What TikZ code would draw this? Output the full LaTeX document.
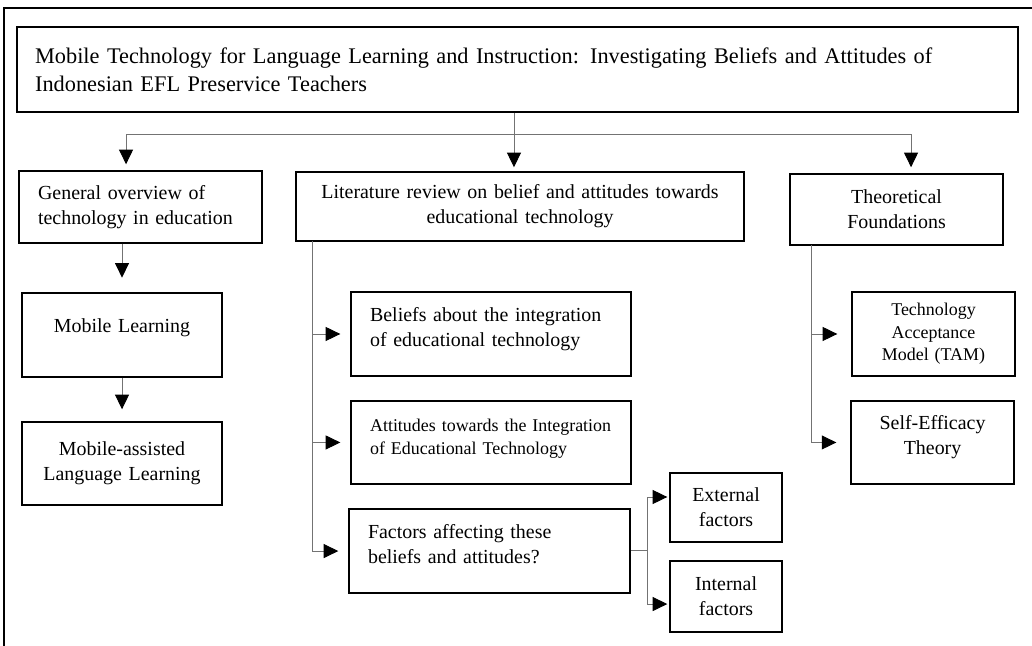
\documentclass[tikz,border=0pt]{standalone}
\usepackage{fontspec}
\setmainfont{Liberation Serif}
\usepackage{tikz}
\usetikzlibrary{arrows.meta}
\tikzset{>={Triangle[width=10.5pt,length=11pt,color=black]}}
\tikzset{box/.style={shape=rectangle,draw=black,line width=1.1pt,inner sep=0pt,font=\fontsize{15}{18.75}\selectfont},
  smallbox/.style={box,font=\fontsize{13.5}{16.9}\selectfont},
  link/.style={draw=black!55,line width=0.7pt}}
\newcommand{\padbelow}{\\[-8pt]\mbox{}}

\begin{document}
\begin{tikzpicture}

\useasboundingbox (0,0) rectangle (10.75in,-6.719in);
\draw[line width=1.4pt] (0.042in,-6.8in) -- (0.042in,-0.083in) -- (10.8in,-0.083in);

\path (5.391in,-0.724in) node (title) [box,minimum height=0.885in,minimum width=10.427in,text width=10.05in,align=left,font=\fontsize{16.8}{21}\selectfont]{Mobile Technology for Language Learning and Instruction: Investigating Beliefs and Attitudes of\\Indonesian EFL Preservice Teachers};

\path (1.464in,-2.156in) node (general) [box,minimum height=0.75in,minimum width=2.531in,text width=2.135in,align=left]{General overview of\\technology in education};

\path (5.417in,-2.151in) node (lit) [box,minimum height=0.719in,minimum width=4.667in,text width=4.3in,align=center]{Literature review on belief and attitudes towards\\educational technology};

\path (9.339in,-2.182in) node (theo) [box,minimum height=0.74in,minimum width=2.219in,text width=2.0in,align=center]{Theoretical\\Foundations};

\path (1.271in,-3.49in) node (mobile) [box,minimum height=0.875in,minimum width=2.083in,text width=1.9in,align=center]{Mobile Learning\\[-4pt]\mbox{}};

\path (1.271in,-4.828in) node (mall) [box,minimum height=0.865in,minimum width=2.083in,text width=1.9in,align=center]{Mobile-assisted\\Language Learning};

\path (5.115in,-3.479in) node (beliefs) [box,minimum height=0.875in,minimum width=2.917in,text width=2.52in,align=left]{Beliefs about the integration\\of educational technology\padbelow};

\path (5.115in,-4.609in) node (attitudes) [smallbox,minimum height=0.865in,minimum width=2.917in,text width=2.52in,align=left]{Attitudes towards the Integration\\of Educational Technology\padbelow};

\path (5.099in,-5.74in) node (factors) [box,minimum height=0.875in,minimum width=2.927in,text width=2.53in,align=left]{Factors affecting these\\beliefs and attitudes?\padbelow};

\path (7.563in,-5.286in) node (external) [box,minimum height=0.719in,minimum width=1.167in,text width=1.05in,align=center]{External\\factors};

\path (7.563in,-6.214in) node (internal) [box,minimum height=0.74in,minimum width=1.167in,text width=1.05in,align=center]{Internal\\factors};

\path (9.724in,-3.479in) node (tam) [smallbox,minimum height=0.875in,minimum width=1.698in,text width=1.55in,align=center]{Technology\\Acceptance\\Model (TAM)};

\path (9.714in,-4.609in) node (selfeff) [box,minimum height=0.865in,minimum width=1.698in,text width=1.55in,align=center]{Self-Efficacy\\Theory\padbelow};

% branching under the title
\coordinate (split) at (5.354in,-1.396in);
\draw[link,->,shorten >=3pt] (title.south -| split) -- (lit.north -| split);
\draw[link,->,shorten >=4.5pt] (split) -| ([xshift=-0.151in]general.north);
\draw[link,->,shorten >=4.5pt] (split) -| ([xshift=0.151in]theo.north);

% left column
\draw[link,->,shorten >=11pt] (general.south -| mobile.north) -- (mobile.north);
\draw[link,->,shorten >=9pt] (mobile) -- (mall);

% literature review column
\coordinate (littrunk) at (3.26in,-2.51in);
\draw[link,->,shorten >=7.5pt] (littrunk) |- (factors);
\draw[link,->,shorten >=7.5pt] (littrunk |- beliefs) -- (beliefs);
\draw[link,->,shorten >=7.5pt] (littrunk |- attitudes) -- (attitudes);

\coordinate (fork) at (6.74in,-5.729in);
\draw[link] (factors.east |- fork) -- (fork);
\draw[link,->,shorten >=1.5pt] (fork) |- ([yshift=0.109in]external.west);
\draw[link,->,shorten >=1.5pt] (fork) |- ([yshift=-0.078in]internal.west);

% theory column
\coordinate (theotrunk) at (8.448in,-2.552in);
\draw[link,->,shorten >=10.5pt] (theotrunk) |- (selfeff);
\draw[link,->,shorten >=10.5pt] (theotrunk |- tam) -- (tam);

\end{tikzpicture}
\end{document}
